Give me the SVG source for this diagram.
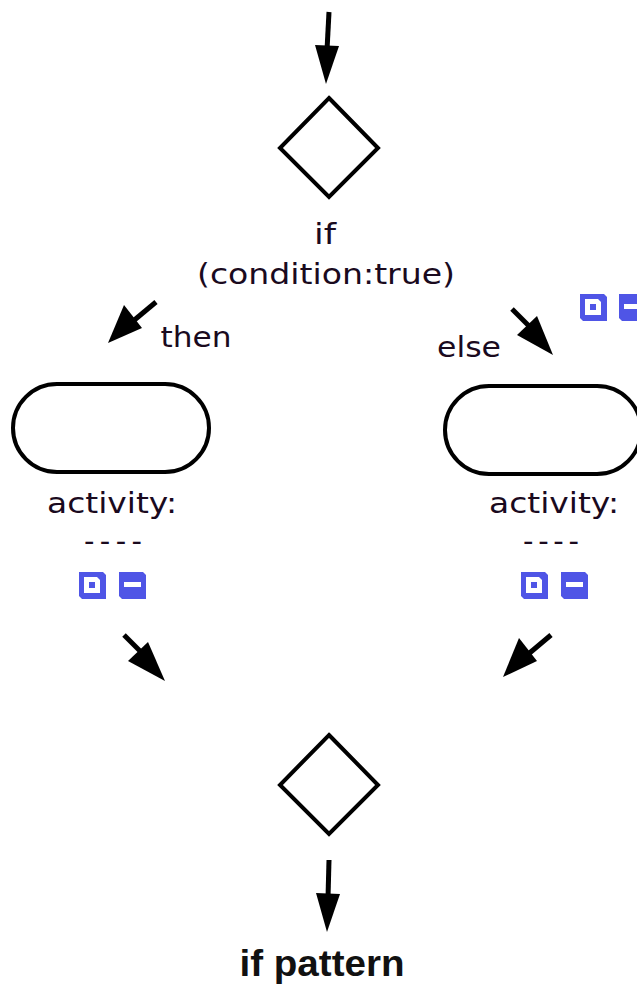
<svg xmlns="http://www.w3.org/2000/svg" width="637" height="984" viewBox="0 0 637 984">
<style>
.shape{fill:#fff;stroke:#000;stroke-width:4}
.lbl{font-family:"DejaVu Sans",Verdana,sans-serif;font-size:29px;fill:#1a0a1e;text-anchor:middle}
.conn{stroke:#000;stroke-width:5;fill:none}
.head{fill:#000;stroke:none}
.blue{fill:#4f55e6}
.white{fill:#fff}
</style>
<defs>
<g id="plus"><path class="blue" d="M0 0H24L27 3V27H3L0 24Z"/><path class="white" d="M5 5H18L21 8V21H5Z"/><rect class="blue" x="10" y="10" width="6" height="6"/></g>
<g id="minus"><path class="blue" d="M0 0H24L27 3V27H3L0 24Z"/><rect class="white" x="5" y="10" width="17" height="5"/></g>
</defs>
<rect width="637" height="984" fill="#fff"/>
<g id="connectors">
<path class="conn" d="M329 12L327 50"/><path class="head" d="M315 45L339 46L326 84Z"/>
<path class="conn" d="M156 302L132 322"/><path class="head" d="M124 305L142 328L108 343Z"/>
<path class="conn" d="M512 309L534 331"/><path class="head" d="M517 335L537 316L553 355Z"/>
<path class="conn" d="M124 635L146 657"/><path class="head" d="M128 661L148 642L165 681Z"/>
<path class="conn" d="M551 635L526 656"/><path class="head" d="M519 638L537 661L503 677Z"/>
<path class="conn" d="M329 860L328 898"/><path class="head" d="M316 893L340 894L327 932Z"/>
</g>
<g id="decision-top"><path class="shape" d="M329 98L378 148L329 197L280 148Z"/>
<text class="lbl" x="325" y="244" textLength="22" lengthAdjust="spacingAndGlyphs">if</text><text class="lbl" x="326" y="284" textLength="258" lengthAdjust="spacingAndGlyphs">(condition:true)</text></g>
<g id="label-then"><text class="lbl" x="196" y="347" textLength="71" lengthAdjust="spacingAndGlyphs">then</text></g>
<g id="label-else"><text class="lbl" x="469" y="357" textLength="64" lengthAdjust="spacingAndGlyphs">else</text></g>
<g id="activity-left"><rect class="shape" x="13" y="384" width="196" height="88" rx="44"/>
<text class="lbl" x="112" y="513" textLength="130" lengthAdjust="spacingAndGlyphs">activity:</text><text class="lbl" x="113" y="551" textLength="58">----</text>
<use href="#plus" x="79" y="572"/><use href="#minus" x="119" y="572"/></g>
<g id="activity-right"><rect class="shape" x="445" y="386" width="196" height="88" rx="44"/>
<text class="lbl" x="554" y="513" textLength="130" lengthAdjust="spacingAndGlyphs">activity:</text><text class="lbl" x="551" y="551" textLength="56">----</text>
<use href="#plus" x="521" y="572"/><use href="#minus" x="561" y="572"/></g>
<g id="icons-top"><use href="#plus" x="580" y="294"/><use href="#minus" x="619" y="294"/></g>
<g id="decision-bottom"><path class="shape" d="M329 735L378 785L329 834L280 785Z"/></g>
<g id="title"><text x="322" y="976" font-family="Liberation Sans,Arial,sans-serif" font-size="36" font-weight="bold" text-anchor="middle" fill="#111" textLength="165" lengthAdjust="spacingAndGlyphs">if pattern</text></g>
</svg>
